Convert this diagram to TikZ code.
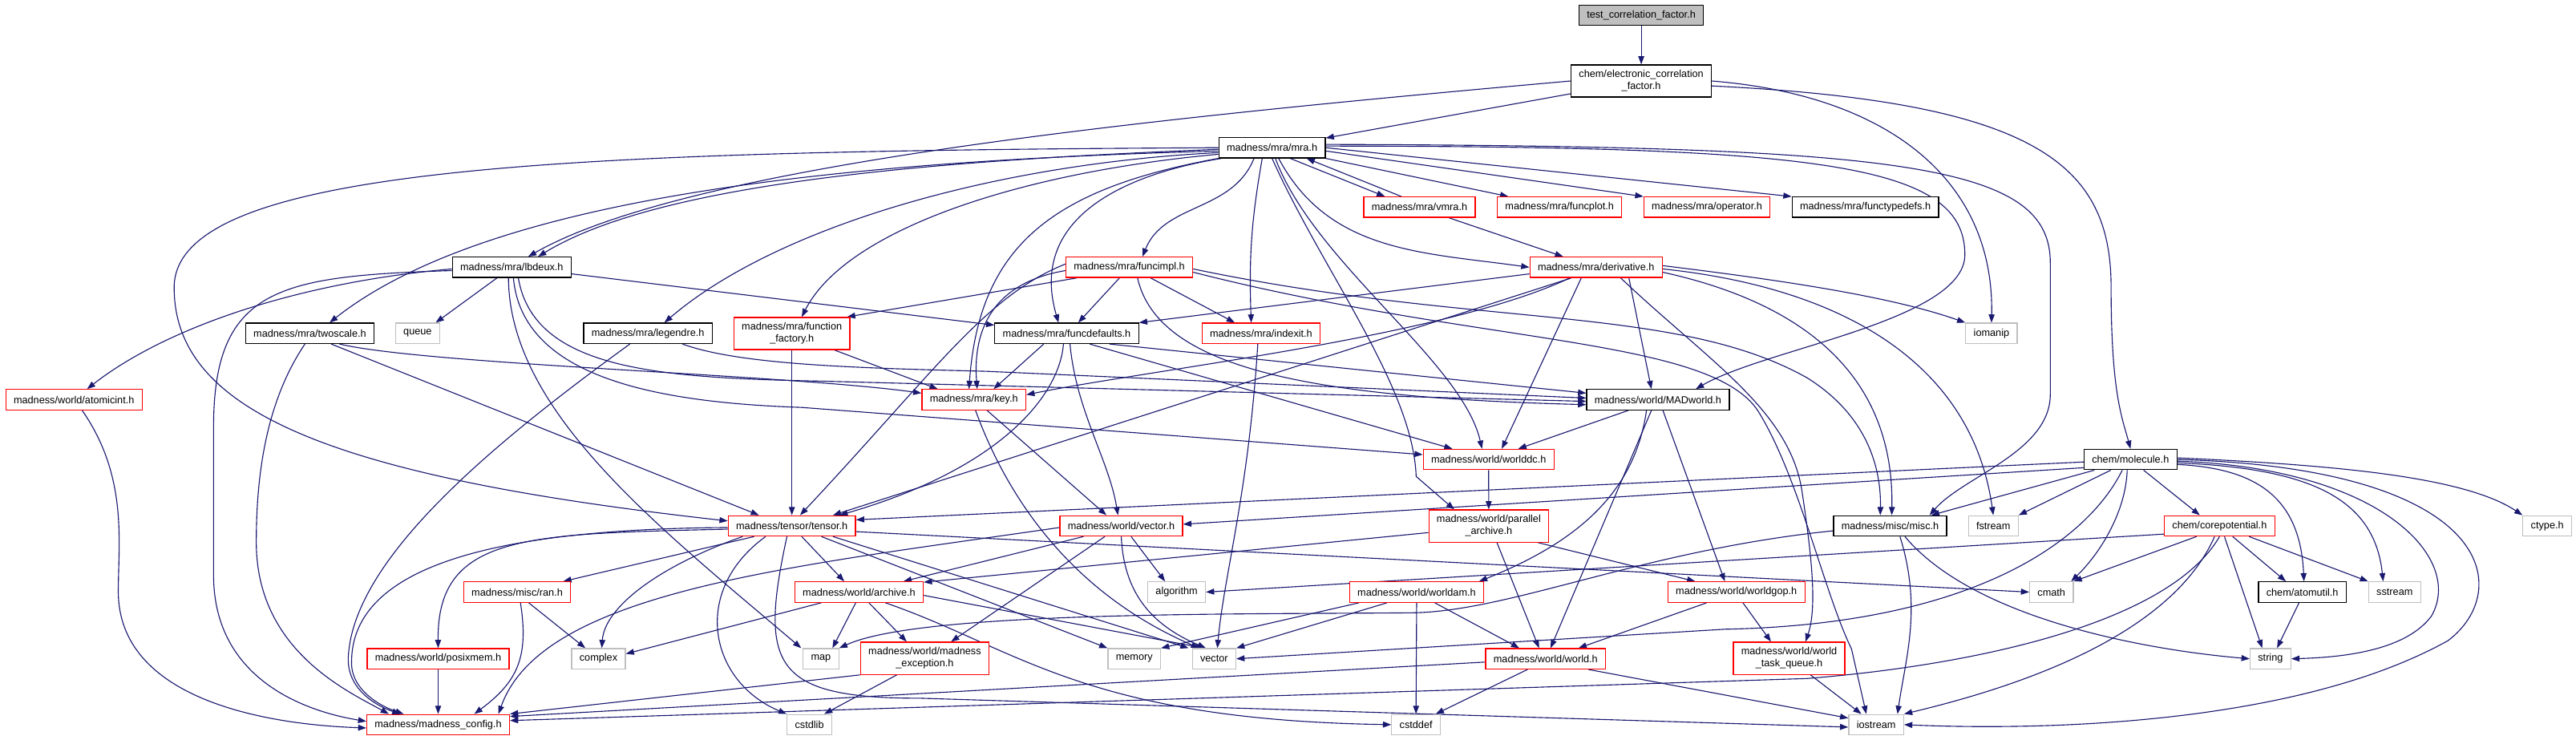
\documentclass[tikz,border=0pt]{standalone}
\usepackage{fontspec}
\setmainfont{Liberation Sans}
\usetikzlibrary{arrows.meta, backgrounds}
\definecolor{depblue}{RGB}{25,25,112}
\definecolor{sysgray}{RGB}{191,191,191}
\definecolor{rootgray}{RGB}{191,191,191}
\newcommand{\incfont}{\fontsize{6.2}{7.3}\selectfont}

\begin{document}
\begin{tikzpicture}[x=1pt, y=1pt,
    inc/.style={rectangle, draw=black, fill=white, line width=0.6pt, font=\incfont,
        inner xsep=4.8pt, inner ysep=0pt, minimum height=12.4pt, text=black},
    incred/.style={inc, draw=red},
    incsys/.style={inc, draw=sysgray},
    incroot/.style={inc, fill=rootgray},
    inctwo/.style={minimum height=19.6pt, align=center},
    dep/.style={draw=depblue, line width=0.55pt, -{Triangle[length=5pt,width=3.6pt]}}]

\useasboundingbox (0,0) rectangle (1568,-450.4);

% header files, row by row
\node[incroot] (test) at (999,-9.2) {test\_correlation\_factor.h};
\node[inc,inctwo] (ecf) at (999,-49.3) {chem/electronic\_correlation\\\_factor.h};
\node[inc] (mra) at (774.3,-89.9) {madness/mra/mra.h};

\node[incred] (vmra) at (864,-126.1) {madness/mra/vmra.h};
\node[incred] (funcplot) at (949.3,-126.1) {madness/mra/funcplot.h};
\node[incred] (operator) at (1039,-126.1) {madness/mra/operator.h};
\node[inc] (functypedefs) at (1135.4,-126.1) {madness/mra/functypedefs.h};

\node[inc] (lbdeux) at (311.5,-162.7) {madness/mra/lbdeux.h};
\node[incred] (funcimpl) at (687.4,-162.7) {madness/mra/funcimpl.h};
\node[incred] (derivative) at (971.5,-162.7) {madness/mra/derivative.h};

\node[inc] (twoscale) at (188.6,-202.9) {madness/mra/twoscale.h};
\node[incsys] (queue) at (254.2,-202.9) {queue};
\node[inc] (legendre) at (394.4,-202.9) {madness/mra/legendre.h};
\node[incred,inctwo] (funcfactory) at (482,-203) {madness/mra/function\\\_factory.h};
\node[inc] (funcdefaults) at (649.3,-202.9) {madness/mra/funcdefaults.h};
\node[incred] (indexit) at (767.6,-202.9) {madness/mra/indexit.h};
\node[incsys] (iomanip) at (1212.2,-202.9) {iomanip};

\node[incred] (atomicint) at (45,-243.3) {madness/world/atomicint.h};
\node[incred] (key) at (592.8,-243.3) {madness/mra/key.h};
\node[inc] (madworld) at (1009.2,-243.3) {madness/world/MADworld.h};

\node[incred] (worlddc) at (906.1,-279.7) {madness/world/worlddc.h};
\node[inc] (molecule) at (1296.8,-279.7) {chem/molecule.h};

\node[incred] (tensor) at (482,-320.1) {madness/tensor/tensor.h};
\node[incred] (vectorh) at (682.5,-320.1) {madness/world/vector.h};
\node[incred,inctwo] (parallel) at (906.2,-320.2) {madness/world/parallel\\\_archive.h};
\node[inc] (misc) at (1150.5,-320.1) {madness/misc/misc.h};
\node[incsys] (fstream) at (1213.3,-320.1) {fstream};
\node[incred] (corepot) at (1351,-320.1) {chem/corepotential.h};
\node[incsys] (ctype) at (1550.5,-320.1) {ctype.h};

\node[incred] (ran) at (314.8,-360.4) {madness/misc/ran.h};
\node[incred] (archive) at (522.9,-360.4) {madness/world/archive.h};
\node[incsys] (algorithm) at (716.2,-360.4) {algorithm};
\node[incred] (worldam) at (862.3,-360.4) {madness/world/worldam.h};
\node[incred] (worldgop) at (1056.9,-360.4) {madness/world/worldgop.h};
\node[incsys] (cmath) at (1248.7,-360.4) {cmath};
\node[inc] (atomutil) at (1401.4,-360.4) {chem/atomutil.h};
\node[incsys] (sstream) at (1457.6,-360.4) {sstream};

\node[incred] (posixmem) at (266.7,-401) {madness/world/posixmem.h};
\node[incsys] (complex) at (364.3,-401) {complex};
\node[incsys] (map) at (499.7,-401) {map};
\node[incred,inctwo] (exception) at (562.9,-400.7) {madness/world/madness\\\_exception.h};
\node[incsys] (memory) at (690.4,-401) {memory};
\node[incsys] (vector) at (739,-401) {vector};
\node[incred] (world) at (940.8,-401) {madness/world/world.h};
\node[incred,inctwo] (wtq) at (1089,-400.7) {madness/world/world\\\_task\_queue.h};
\node[incsys] (string) at (1382,-401) {string};

\node[incred] (config) at (266.7,-441.1) {madness/madness\_config.h};
\node[incsys] (cstdlib) at (492.7,-441.1) {cstdlib};
\node[incsys] (cstddef) at (861.9,-441.1) {cstddef};
\node[incsys] (iostream) at (1142,-441.1) {iostream};

\begin{scope}[on background layer]
% top of the graph
\draw[dep] (test) -- (ecf);
\draw[dep] (ecf) -- (mra);
\draw[dep] (ecf.west) .. controls (700,-72) and (420,-100) .. ([xshift=10pt]lbdeux.north);
\draw[dep] (ecf.east) .. controls (1150,-58) and (1214,-110) .. (iomanip.north);
\draw[dep] ([yshift=-3pt]ecf.east) .. controls (1240,-62) and (1285,-100) .. (1285,-175)
    .. controls (1285,-240) and (1292,-255) .. (molecule.north);

% mra.h
\draw[dep] ([xshift=11pt]mra.south) -- ([xshift=-21pt]vmra.north);
\draw[dep] ([xshift=-11pt]vmra.north) -- ([xshift=21pt]mra.south);
\draw[dep] (mra.south east) -- ([xshift=7pt]funcplot.north west);
\draw[dep] ([yshift=-2pt]mra.east) -- (operator.north west);
\draw[dep] (mra.east) -- (functypedefs.north west);
\draw[dep] ([xshift=4pt]mra.south) to[out=-62,in=172] (derivative.west);
\draw[dep] ([xshift=18pt]vmra.south) -- ([xshift=-20pt]derivative.north);
\draw[dep] ([xshift=-11pt]mra.south) to[out=-112,in=68] ([xshift=8pt]funcimpl.north);
\draw[dep] ([xshift=-6pt]mra.south) to[out=-100,in=92] ([xshift=-6pt]indexit.north);
\draw[dep] ([xshift=2pt]mra.south) .. controls (800,-160) and (890,-220) .. ([xshift=-4pt]worlddc.north);
\draw[dep] (mra.south) .. controls (805,-165) and (860,-235) .. (862,-290) -- ([xshift=-21pt]parallel.north);
\draw[dep] ([yshift=1pt]mra.east) .. controls (1110,-89) and (1196,-100) .. (1196,-155)
    .. controls (1196,-195) and (1075,-212) .. ([xshift=23pt]madworld.north);
\draw[dep] ([yshift=2pt]mra.east) .. controls (1160,-89) and (1248,-100) .. (1248,-160) -- (1248,-240)
    .. controls (1248,-275) and (1195,-290) .. ([xshift=24pt]misc.north);
\draw[dep] ([yshift=-1pt]mra.west) .. controls (560,-98) and (400,-112) .. ([xshift=16pt]lbdeux.north);
\draw[dep] ([yshift=-2pt]mra.west) .. controls (520,-98) and (300,-118) .. ([xshift=12pt]twoscale.north);
\draw[dep] (mra.west) .. controls (350,-92) and (106,-100) .. (106,-175)
    .. controls (106,-250) and (200,-290) .. ([yshift=3pt]tensor.west);
\draw[dep] ([yshift=-3pt]mra.west) .. controls (600,-100) and (470,-140) .. ([xshift=10pt]legendre.north);
\draw[dep] ([yshift=-4pt]mra.west) .. controls (620,-105) and (515,-140) .. ([xshift=6pt]funcfactory.north);
\draw[dep] ([xshift=2pt]mra.south west) .. controls (690,-105) and (625,-130) .. ([xshift=-5pt]funcdefaults.north);
\draw[dep] (mra.south west) .. controls (640,-115) and (596,-150) .. ([xshift=-3pt]key.north);

% lbdeux.h, twoscale.h, legendre.h, function_factory.h
\draw[dep] ([yshift=-1pt]lbdeux.west) .. controls (180,-172) and (100,-200) .. ([xshift=8pt]atomicint.north);
\draw[dep] ([yshift=-2pt]lbdeux.west) .. controls (170,-168) and (130,-175) .. (130,-260) -- (130,-350)
    .. controls (130,-410) and (180,-432) .. ([yshift=2pt]config.west);
\draw[dep] ([xshift=-9pt]lbdeux.south) -- ([xshift=11pt]queue.north);
\draw[dep] ([xshift=-2pt]lbdeux.south) .. controls (310,-250) and (400,-320) .. ([xshift=-12pt]map.north);
\draw[dep] ([xshift=1pt]lbdeux.south) .. controls (318,-230) and (400,-245) .. (488,-248) -- ([yshift=3pt]worlddc.west);
\draw[dep] ([xshift=4pt]lbdeux.south) .. controls (325,-225) and (400,-230) .. (500,-232) -- ([yshift=-1pt]madworld.west);
\draw[dep] ([yshift=-4pt]lbdeux.east) -- ([yshift=5pt]funcdefaults.west);
\draw[dep] ([xshift=5pt]atomicint.south) .. controls (78,-290) and (72,-330) .. (72,-360)
    .. controls (72,-425) and (160,-441) .. ([yshift=-2pt]config.west);
\draw[dep] ([xshift=-3pt]twoscale.south) .. controls (165,-240) and (156,-280) .. (156,-330)
    .. controls (156,-395) and (210,-420) .. ([xshift=-30pt]config.north);
\draw[dep] ([xshift=13pt]twoscale.south) -- ([xshift=-20pt]tensor.north);
\draw[dep] ([xshift=18pt]twoscale.south) .. controls (260,-222) and (480,-228) .. ([yshift=4pt]key.west);
\draw[dep] ([xshift=-11pt]legendre.south) .. controls (300,-270) and (215,-340) .. (212,-400)
    .. controls (211,-420) and (230,-430) .. ([xshift=-23pt]config.north);
\draw[dep] ([xshift=21pt]legendre.south) .. controls (450,-222) and (520,-224) .. (600,-226) -- ([yshift=1pt]madworld.west);
\draw[dep] ([xshift=26pt]funcfactory.south) -- ([xshift=-22pt]key.north);
\draw[dep] (funcfactory.south) -- (tensor.north);

% funcimpl.h
\draw[dep] ([xshift=-32pt]funcimpl.south) -- ([xshift=-2pt]funcfactory.north east);
\draw[dep] ([xshift=-6pt]funcimpl.south) -- ([xshift=7pt]funcdefaults.north);
\draw[dep] ([xshift=13pt]funcimpl.south) -- ([xshift=-16pt]indexit.north);
\draw[dep] ([yshift=-2pt]funcimpl.west) .. controls (605,-172) and (592,-200) .. ([xshift=2pt]key.north);
\draw[dep] ([yshift=2pt]funcimpl.west) .. controls (600,-180) and (570,-225) .. ([xshift=5pt]tensor.north);
\draw[dep] ([xshift=5pt]funcimpl.south) .. controls (705,-225) and (800,-242) .. ([yshift=-3pt]madworld.west);
\draw[dep] ([yshift=-1pt]funcimpl.east) .. controls (900,-200) and (1020,-185) .. (1100,-230)
    .. controls (1140,-255) and (1145,-290) .. ([xshift=-6pt]misc.north);
\draw[dep] ([yshift=-3pt]funcimpl.east) .. controls (900,-210) and (1040,-205) .. (1070,-250)
    .. controls (1095,-290) and (1110,-360) .. (1127,-395) -- ([xshift=-6pt]iostream.north);

% derivative.h
\draw[dep] ([yshift=-4pt]derivative.west) -- (funcdefaults.north east);
\draw[dep] ([xshift=-16pt]derivative.south) .. controls (880,-205) and (700,-225) .. ([yshift=3pt]key.east);
\draw[dep] ([xshift=-15pt]derivative.south) -- ([xshift=25pt]tensor.north);
\draw[dep] ([xshift=-9pt]derivative.south) -- ([xshift=8pt]worlddc.north);
\draw[dep] ([xshift=20pt]derivative.south) -- ([xshift=-4pt]madworld.north);
\draw[dep] ([yshift=1pt]derivative.east) .. controls (1080,-170) and (1150,-180) .. (iomanip.north west);
\draw[dep] ([yshift=-3pt]derivative.east) .. controls (1100,-185) and (1153,-230) .. ([xshift=1pt]misc.north);
\draw[dep] ([yshift=-1pt]derivative.east) .. controls (1120,-175) and (1200,-220) .. (fstream.north);
\draw[dep] ([xshift=15pt]derivative.south) .. controls (1040,-220) and (1090,-250) .. (1097,-300)
    .. controls (1103,-340) and (1106,-370) .. ([xshift=10pt]wtq.north);

% funcdefaults.h, indexit.h, key.h
\draw[dep] ([xshift=-14pt]funcdefaults.south) -- ([xshift=12pt]key.north);
\draw[dep] ([xshift=-2pt]funcdefaults.south) .. controls (645,-240) and (610,-285) .. ([xshift=29pt]tensor.north);
\draw[dep] ([xshift=2pt]funcdefaults.south) .. controls (655,-250) and (675,-280) .. ([xshift=-2pt]vectorh.north);
\draw[dep] ([xshift=14pt]funcdefaults.south) -- ([xshift=-22pt]worlddc.north);
\draw[dep] ([xshift=26pt]funcdefaults.south) -- ([yshift=4pt]madworld.west);
\draw[dep] ([xshift=-2pt]indexit.south) .. controls (760,-300) and (745,-350) .. ([xshift=2pt]vector.north);
\draw[dep] ([xshift=8pt]key.south) -- ([xshift=-9pt]vectorh.north);
\draw[dep] ([xshift=1pt]key.south) .. controls (612,-300) and (650,-360) .. ([xshift=-9pt]vector.north);

% MADworld.h, worlddc.h, parallel_archive.h
\draw[dep] ([xshift=-18pt]madworld.south) -- ([xshift=18pt]worlddc.north);
\draw[dep] ([xshift=-7pt]madworld.south) .. controls (995,-300) and (960,-330) .. ([xshift=38pt]worldam.north);
\draw[dep] ([xshift=-4pt]madworld.south) -- ([xshift=3pt]world.north);
\draw[dep] ([xshift=3pt]madworld.south) -- ([xshift=-7pt]worldgop.north);
\draw[dep] (worlddc) -- (parallel);
\draw[dep] ([yshift=-4pt]parallel.west) -- ([yshift=6pt]archive.east);
\draw[dep] ([xshift=5pt]parallel.south) -- ([xshift=-4pt]world.north);
\draw[dep] ([xshift=30pt]parallel.south) -- ([xshift=-25pt]worldgop.north);

% tensor.h
\draw[dep] ([yshift=-1pt]tensor.west) .. controls (300,-322) and (215,-345) .. (214,-402)
    .. controls (213,-420) and (232,-430) .. ([xshift=-21pt]config.north);
\draw[dep] ([yshift=-2pt]tensor.west) .. controls (320,-325) and (266,-325) .. (posixmem.north);
\draw[dep] ([xshift=-23pt]tensor.south) -- ([xshift=28pt]ran.north);
\draw[dep] ([xshift=-30pt]tensor.south) .. controls (400,-345) and (368,-370) .. ([xshift=2pt]complex.north);
\draw[dep] ([xshift=-16pt]tensor.south) .. controls (420,-360) and (432,-415) .. (cstdlib.north west);
\draw[dep] ([xshift=6pt]tensor.south) -- ([xshift=-9pt]archive.north);
\draw[dep] ([xshift=18pt]tensor.south) -- (memory.north west);
\draw[dep] ([xshift=25pt]tensor.south) -- ([xshift=-2pt]vector.north west);
\draw[dep] ([yshift=-3.5pt]tensor.east) -- (cmath.west);
\draw[dep] ([xshift=-3pt]tensor.south) .. controls (462,-405) and (470,-425) .. (560,-425) -- ([yshift=-1.5pt]iostream.west);

% vector.h
\draw[dep] ([yshift=-1pt]vectorh.west) .. controls (480,-345) and (330,-360) .. ([xshift=-7pt]config.north east);
\draw[dep] ([xshift=-23pt]vectorh.south) -- ([xshift=27pt]archive.north);
\draw[dep] ([xshift=-10pt]vectorh.south) -- ([xshift=16pt]exception.north);
\draw[dep] (vectorh.south) .. controls (684,-360) and (700,-380) .. ([xshift=-5pt]vector.north);
\draw[dep] ([xshift=6pt]vectorh.south) -- ([xshift=-7pt]algorithm.north);

% lower layers
\draw[dep] ([xshift=2pt]ran.south) .. controls (322,-400) and (315,-415) .. ([xshift=22pt]config.north);
\draw[dep] ([xshift=7pt]ran.south) -- ([xshift=-8pt]complex.north);
\draw[dep] (posixmem) -- (config);
\draw[dep] ([xshift=-23pt]archive.south) -- ([yshift=3pt]complex.east);
\draw[dep] ([xshift=-2pt]archive.south) -- ([xshift=7pt]map.north);
\draw[dep] ([xshift=6pt]archive.south) -- ([xshift=-11pt]exception.north);
\draw[dep] ([xshift=16pt]archive.south) .. controls (620,-395) and (660,-438) .. (cstddef.west);
\draw[dep] ([yshift=-2pt]archive.east) -- ([xshift=-6pt]vector.north);
\draw[dep] (exception.south west) -- (config.north east);
\draw[dep] ([xshift=-17pt]exception.south) -- ([xshift=9pt]cstdlib.north);
\draw[dep] ([xshift=-35pt]worldam.south) -- (memory.north east);
\draw[dep] ([xshift=-18pt]worldam.south) -- (vector.north east);
\draw[dep] (worldam.south) -- (cstddef.north);
\draw[dep] ([xshift=11pt]worldam.south) -- ([xshift=-16pt]world.north);
\draw[dep] ([xshift=-18pt]worldgop.south) -- ([xshift=20pt]world.north);
\draw[dep] ([xshift=4pt]worldgop.south) -- ([xshift=-11pt]wtq.north);
\draw[dep] ([yshift=-2pt]world.west) -- ([yshift=5pt]config.east);
\draw[dep] ([xshift=-11pt]world.south) -- ([xshift=12pt]cstddef.north);
\draw[dep] ([xshift=26pt]world.south) -- ([yshift=4pt]iostream.west);
\draw[dep] ([xshift=13pt]wtq.south) -- ([xshift=-9pt]iostream.north);

% misc.h
\draw[dep] ([yshift=-3pt]misc.west) .. controls (1000,-335) and (920,-372) .. (860,-373)
    .. controls (750,-374) and (560,-372) .. (map.north east);
\draw[dep] ([xshift=6pt]misc.south) .. controls (1170,-370) and (1160,-400) .. ([xshift=13pt]iostream.north);
\draw[dep] ([xshift=9pt]misc.south) .. controls (1200,-375) and (1300,-395) .. (string.west);

% molecule.h
\draw[dep] ([yshift=-1.5pt]molecule.west) -- ([yshift=3.7pt]tensor.east);
\draw[dep] ([yshift=-5pt]molecule.west) -- ([yshift=1pt]vectorh.east);
\draw[dep] ([xshift=-22pt]molecule.south) -- ([xshift=25pt]misc.north);
\draw[dep] ([xshift=-12pt]molecule.south) -- (fstream.north east);
\draw[dep] ([xshift=8pt]molecule.south) -- ([xshift=-12pt]corepot.north);
\draw[dep] ([xshift=-2pt]molecule.south) .. controls (1294,-310) and (1280,-335) .. ([xshift=12pt]cmath.north);
\draw[dep] ([xshift=-5pt]molecule.south) .. controls (1270,-330) and (1200,-380) .. (1050,-383) -- (vector.east);
\draw[dep] ([yshift=1pt]molecule.east) .. controls (1420,-283) and (1500,-290) .. (ctype.north west);
\draw[dep] ([yshift=-3pt]molecule.east) .. controls (1370,-285) and (1400,-300) .. ([xshift=1pt]atomutil.north);
\draw[dep] ([yshift=-2pt]molecule.east) .. controls (1400,-285) and (1445,-300) .. ([xshift=-7pt]sstream.north);
\draw[dep] ([yshift=-1pt]molecule.east) .. controls (1450,-285) and (1500,-340) .. (1480,-375)
    .. controls (1465,-395) and (1430,-400) .. (string.east);
\draw[dep] (molecule.east) .. controls (1520,-285) and (1530,-360) .. (1490,-390)
    .. controls (1400,-440) and (1250,-445) .. (iostream.east);

% corepotential.h, atomutil.h
\draw[dep] (corepot.south) .. controls (1320,-380) and (1200,-405) .. (1100,-413) -- ([yshift=2.5pt]config.east);
\draw[dep] ([yshift=-5pt]corepot.west) -- (algorithm.east);
\draw[dep] ([xshift=-14pt]corepot.south) -- (cmath.north east);
\draw[dep] ([xshift=8pt]corepot.south) -- ([xshift=-10pt]atomutil.north);
\draw[dep] ([xshift=18pt]corepot.south) -- (sstream.north west);
\draw[dep] ([xshift=3pt]corepot.south) -- ([xshift=-5pt]string.north);
\draw[dep] ([xshift=-3pt]corepot.south) .. controls (1320,-390) and (1220,-420) .. (iostream.north east);
\draw[dep] ([xshift=-2pt]atomutil.south) -- ([xshift=4pt]string.north);
\end{scope}

\end{tikzpicture}
\end{document}
